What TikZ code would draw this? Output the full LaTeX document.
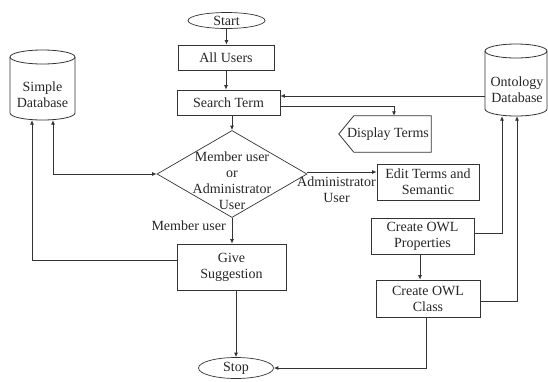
\documentclass[tikz,border=0pt]{standalone}
\usepackage{fontspec}
\setmainfont{Liberation Serif}
\usetikzlibrary{shapes.geometric,arrows.meta,calc}
\begin{document}
\begin{tikzpicture}[x=1pt,y=1pt,
  every node/.style={font=\fontsize{14}{16}\selectfont, text=black!85},
  box/.style={draw=black!80, line width=0.7pt, rectangle, align=center, inner sep=0pt},
  term/.style={draw=black!80, line width=0.7pt, ellipse, inner sep=0pt},
  line/.style={draw=black!80, line width=0.8pt},
  arr/.style={line, -{Latex[length=4.5pt,width=4pt]}},
  dblarr/.style={line, {Latex[length=4.5pt,width=4pt]}-{Latex[length=4.5pt,width=4pt]}},
]
\useasboundingbox (0,0) rectangle (548,-381);

% nodes
\node[term, minimum width=77, minimum height=16] (start) at (226.5,-20.5) {Start};
\node[box, minimum width=96, minimum height=25] (all) at (226,-57.5) {All Users};
\node[box, minimum width=103, minimum height=25] (search) at (228.5,-102.5) {Search Term};
\node[diamond, draw=black!80, line width=0.7pt, minimum width=150, minimum height=87, inner sep=0pt] (dia) at (232,-174) {};
\node[align=center] (diatext) at (232,-181) {Member user\\or\\Administrator\\User};
\node[box, minimum width=109, minimum height=46] (give) at (231.5,-267) {Give\\Suggestion};
\node[term, minimum width=75, minimum height=21] (stop) at (236,-368) {Stop};
\node[box, minimum width=102, minimum height=36] (edit) at (428,-182) {Edit Terms and\\Semantic};
\node[box, minimum width=103, minimum height=36] (props) at (422.5,-236) {Create OWL\\Properties};
\node[box, minimum width=104, minimum height=37] (class) at (428,-298.5) {Create OWL\\Class};
\node[minimum width=92, minimum height=36, inner sep=0pt] (disp) at (385,-134) {\hspace*{6pt}Display Terms};
\draw[line] ($(disp.north west)+(15,0)$) -- (disp.north east) -- (disp.south east) -- ($(disp.south west)+(15,0)$) -- (disp.west) -- cycle;

% simple database cylinder
\node[minimum width=65, minimum height=70, inner sep=0pt] (simple) at (42.5,-85) {};
\draw[line] (10,-57) -- (10,-113) arc[start angle=180,end angle=360,x radius=32.5,y radius=7] -- (75,-57);
\draw[line] (42.5,-57) ellipse[x radius=32.5,y radius=7];
\node[align=center] (simpletext) at (42.5,-95) {Simple\\Database};

% ontology database cylinder
\node[minimum width=62, minimum height=72, inner sep=0pt] (onto) at (516,-80) {};
\draw[line] (485,-51) -- (485,-109) arc[start angle=180,end angle=360,x radius=31,y radius=7] -- (547,-51);
\draw[line] (516,-51) ellipse[x radius=31,y radius=7];
\node[align=center] (ontotext) at (517,-90) {Ontology\\Database};

% labels
\node[anchor=east, inner sep=0pt] (mem) at (226,-226) {Member user};
\node[align=center, inner sep=0pt] (adm) at (336.5,-189.5) {Administrator\\User};

% connectors
\draw[arr] (start.south) -- (start.south |- all.north);
\draw[arr] (all.south) -- (all.south |- search.north);
\draw[arr] (search.south -| dia.north) -- (dia.north);
\coordinate (o1) at ($(onto.west)+(0,-16)$);
\draw[arr] (o1) -- (o1 -| search.east);
\coordinate (s1) at ($(search.east)+(0,-3.5)$);
\draw[arr] (s1) -| ($(disp.north)+(9,0)$);
\draw[dblarr] (dia.west) -| ($(simple.south)+(10.5,0)$);
\coordinate (g1) at ($(give.west)+(0,7)$);
\draw[arr] (g1) -| ($(simple.south)+(-10.5,0)$);
\draw[arr] (dia.south) -- (dia.south |- give.north);
\coordinate (d1) at ($(dia.east)+(0,2)$);
\draw[arr] (d1) -- (d1 -| edit.west);
\draw[arr] ($(give.south)+(4.5,0)$) -- (stop.north);
\coordinate (p1) at ($(props.south)+(-2.5,0)$);
\draw[arr] (p1) -- (p1 |- class.north);
\coordinate (p2) at ($(props.east)+(0,3)$);
\draw[arr] (p2) -| ($(onto.south)+(-14,0)$);
\coordinate (c2) at ($(class.east)+(0,-2.5)$);
\draw[arr] (c2) -| ($(onto.south)+(1,0)$);
\draw[arr] ($(class.south)+(-2,0)$) |- (stop.east);
\end{tikzpicture}
\end{document}
